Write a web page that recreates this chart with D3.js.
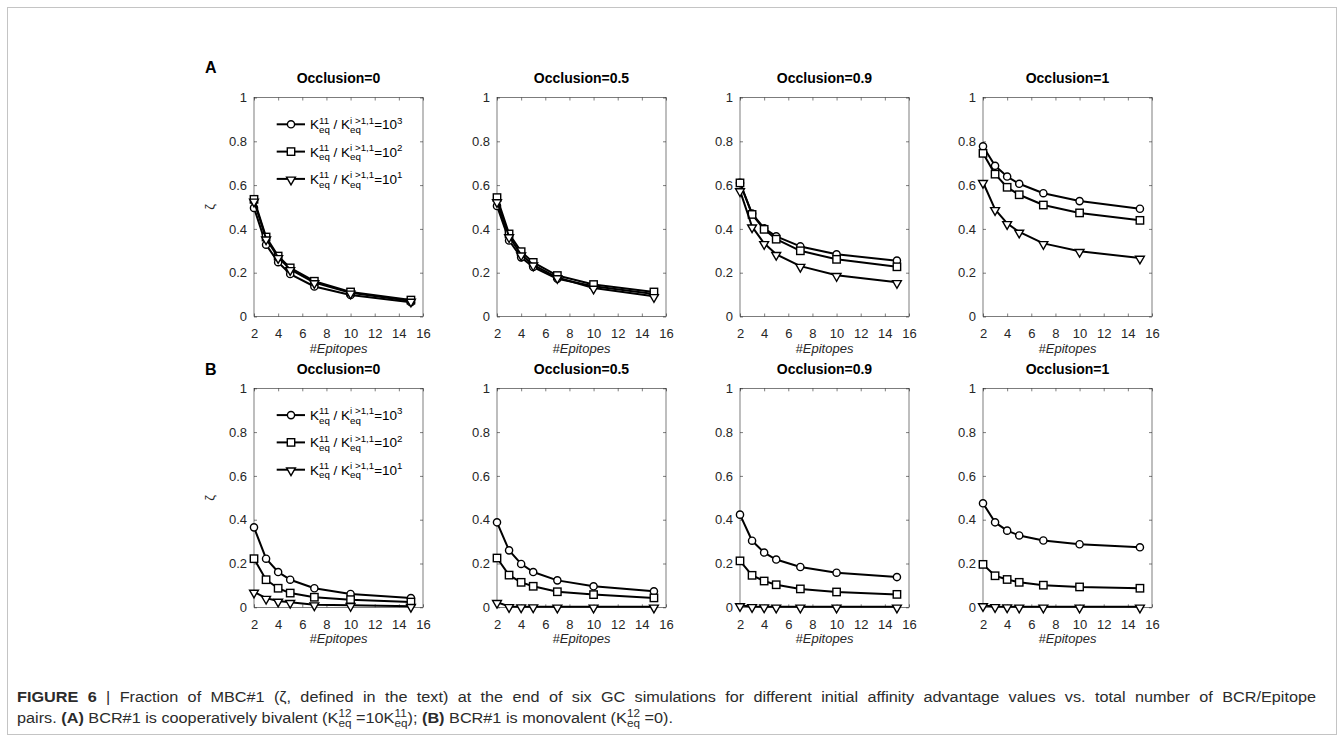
<!DOCTYPE html>
<html>
<head>
<meta charset="utf-8">
<script src="https://cdn.jsdelivr.net/npm/d3@7"></script>
<style>
  body { margin: 0; background: #fff; }
  svg { display: block; font-family: "Liberation Sans", Arial, Helvetica, sans-serif; }
</style>
</head>
<body>
<svg id="chart" width="1344" height="742"></svg>
<script>
// x values and panel labels
const epitopes = [2, 3, 4, 5, 7, 10, 15];
const occlusions = ["0", "0.5", "0.9", "1"];
const rowLabels = ["A", "B"];
const ratioExponents = ["3", "2", "1"];
const xTicks = [2, 4, 6, 8, 10, 12, 14, 16];
const yTicks = [0, 0.2, 0.4, 0.6, 0.8, 1];

// row A (cooperatively bivalent), one array per occlusion
const bivalent1e3 = [
  [0.496, 0.328, 0.248, 0.194, 0.137, 0.098, 0.065],
  [0.505, 0.347, 0.270, 0.226, 0.172, 0.138, 0.103],
  [0.610, 0.470, 0.403, 0.366, 0.320, 0.284, 0.255],
  [0.777, 0.688, 0.639, 0.606, 0.563, 0.527, 0.492]
];
const bivalent1e2 = [
  [0.535, 0.363, 0.276, 0.222, 0.161, 0.112, 0.075],
  [0.543, 0.377, 0.296, 0.247, 0.187, 0.146, 0.112],
  [0.610, 0.466, 0.398, 0.353, 0.300, 0.261, 0.227],
  [0.745, 0.650, 0.590, 0.556, 0.509, 0.473, 0.439]
];
const bivalent1e1 = [
  [0.528, 0.355, 0.270, 0.215, 0.155, 0.108, 0.071],
  [0.525, 0.365, 0.282, 0.236, 0.178, 0.130, 0.092],
  [0.575, 0.410, 0.334, 0.284, 0.230, 0.188, 0.156],
  [0.613, 0.489, 0.425, 0.386, 0.334, 0.298, 0.267]
];

// row B (monovalent)
const monovalent1e3 = [
  [0.365, 0.222, 0.161, 0.126, 0.087, 0.061, 0.042],
  [0.388, 0.260, 0.198, 0.161, 0.123, 0.096, 0.073],
  [0.423, 0.304, 0.250, 0.218, 0.184, 0.158, 0.138],
  [0.475, 0.388, 0.350, 0.328, 0.305, 0.288, 0.274]
];
const monovalent1e2 = [
  [0.222, 0.126, 0.087, 0.065, 0.046, 0.035, 0.024],
  [0.225, 0.147, 0.114, 0.096, 0.071, 0.058, 0.043],
  [0.212, 0.146, 0.120, 0.103, 0.084, 0.070, 0.059],
  [0.196, 0.144, 0.127, 0.114, 0.101, 0.093, 0.087]
];
const monovalent1e1 = [
  [0.070, 0.042, 0.029, 0.023, 0.012, 0.009, 0.005],
  [0.023, 0.004, 0.003, 0.003, 0.002, 0.002, 0.002],
  [0.008, 0.004, 0.003, 0.002, 0.002, 0.002, 0.002],
  [0.008, 0.004, 0.003, 0.002, 0.002, 0.002, 0.002]
];

const rows = [
  [bivalent1e3, bivalent1e2, bivalent1e1],
  [monovalent1e3, monovalent1e2, monovalent1e1]
];
const markers = ["circle", "square", "triangle"];

const svg = d3.select("#chart");
const ink = "#262626";

// frame round the figure
svg.append("rect")
  .attr("x", 7.5).attr("y", 7.5)
  .attr("width", 1329).attr("height", 727)
  .attr("fill", "none").attr("stroke", "#c4c4c4").attr("stroke-width", 1);

const colX = [254, 497, 740, 983];
const rowY = [97.5, 388.3];
const pw = 169, ph = 219;

function drawMarker(g, type, x, y) {
  if (type === "circle") {
    g.append("circle").attr("cx", x).attr("cy", y).attr("r", 3.6)
      .attr("fill", "#fff").attr("stroke", "#000").attr("stroke-width", 1.4);
  } else if (type === "square") {
    g.append("rect").attr("x", x - 3.7).attr("y", y - 3.7).attr("width", 7.4).attr("height", 7.4)
      .attr("fill", "#fff").attr("stroke", "#000").attr("stroke-width", 1.4);
  } else {
    g.append("path").attr("d", d3.symbol(d3.symbolTriangle, 34)())
      .attr("transform", `translate(${x},${y + 0.8}) rotate(180)`)
      .attr("fill", "#fff").attr("stroke", "#000").attr("stroke-width", 1.4);
  }
}

// text with stacked super/subscripts, pieces placed one after another
function rich(g, x, y, parts, size, fill, wordSpacing) {
  let cx = x;
  parts.forEach(p => {
    if (p.t !== undefined) {
      const t = g.append("text").attr("x", cx).attr("y", y)
        .attr("font-size", size).attr("fill", fill)
        .attr("font-weight", p.bold ? "bold" : null)
        .style("word-spacing", wordSpacing ? wordSpacing + "px" : null)
        .attr("xml:space", "preserve").text(p.t);
      cx += t.node().getBBox().width;
    } else {
      let w = 0;
      if (p.sup) {
        const t = g.append("text").attr("x", cx).attr("y", y - size * 0.42)
          .attr("font-size", size * 0.72).attr("fill", fill).text(p.sup);
        w = Math.max(w, t.node().getComputedTextLength());
      }
      if (p.sub) {
        const t = g.append("text").attr("x", cx).attr("y", y + size * 0.28)
          .attr("font-size", size * 0.72).attr("fill", fill).text(p.sub);
        w = Math.max(w, t.node().getComputedTextLength());
      }
      cx += w;
    }
  });
  return cx;
}

const fmt = d => String(+d.toFixed(1));

rows.forEach((series, r) => {
  occlusions.forEach((occ, c) => {
    const x = d3.scaleLinear().domain([2, 16]).range([colX[c], colX[c] + pw]);
    const y = d3.scaleLinear().domain([0, 1]).range([rowY[r] + ph, rowY[r]]);
    const g = svg.append("g");

    // axes with inward ticks on all four sides
    g.append("g").attr("transform", `translate(0,${rowY[r] + ph})`)
      .call(d3.axisBottom(x).tickValues(xTicks).tickSize(-3).tickPadding(12).tickFormat(fmt))
      .call(a => a.select(".domain").remove());
    g.append("g").attr("transform", `translate(0,${rowY[r]})`)
      .call(d3.axisTop(x).tickValues(xTicks).tickSize(-3).tickFormat(""))
      .call(a => a.select(".domain").remove());
    g.append("g").attr("transform", `translate(${colX[c]},0)`)
      .call(d3.axisLeft(y).tickValues(yTicks).tickSize(-3).tickPadding(7).tickFormat(fmt))
      .call(a => a.select(".domain").remove());
    g.append("g").attr("transform", `translate(${colX[c] + pw},0)`)
      .call(d3.axisRight(y).tickValues(yTicks).tickSize(-3).tickFormat(""))
      .call(a => a.select(".domain").remove());
    g.selectAll(".tick line").attr("stroke", ink).attr("stroke-width", 0.6);
    g.selectAll(".tick text").attr("fill", ink).attr("font-size", 13)
      .attr("font-family", "Liberation Sans, Arial, sans-serif");
    g.append("rect").attr("x", colX[c]).attr("y", rowY[r])
      .attr("width", pw).attr("height", ph)
      .attr("fill", "none").attr("stroke", ink).attr("stroke-width", 0.6);

    // title and axis label
    g.append("text").attr("x", colX[c] + pw / 2).attr("y", rowY[r] - 14.5)
      .attr("text-anchor", "middle").attr("font-weight", "bold").attr("font-size", 14)
      .attr("fill", "#000").text("Occlusion=" + occ);
    g.append("text").attr("x", colX[c] + pw / 2).attr("y", rowY[r] + ph + 36)
      .attr("text-anchor", "middle").attr("font-style", "italic").attr("font-size", 13)
      .attr("fill", ink).text("#Epitopes");

    // series
    const line = d3.line().x((d, i) => x(epitopes[i])).y(d => y(d));
    series.forEach((s, k) => {
      const vals = s[c];
      g.append("path").attr("d", line(vals))
        .attr("fill", "none").attr("stroke", "#000").attr("stroke-width", 2)
        .attr("stroke-linejoin", "round");
      vals.forEach((v, i) => drawMarker(g, markers[k], x(epitopes[i]), y(v)));
    });

    if (c === 0) {
      // y label
      g.append("text").attr("transform", `translate(214,${rowY[r] + ph / 2}) rotate(-90)`)
        .attr("text-anchor", "middle").attr("font-size", 13).attr("fill", ink).text("ζ");
      // panel letter
      svg.append("text").attr("x", 205).attr("y", r === 0 ? 72.5 : 375)
        .attr("font-weight", "bold").attr("font-size", 16).attr("fill", "#000")
        .text(rowLabels[r]);
      // legend
      ratioExponents.forEach((e, k) => {
        const ly = rowY[r] + 26.8 + k * 27.3;
        g.append("line").attr("x1", 276.7).attr("x2", 305).attr("y1", ly).attr("y2", ly)
          .attr("stroke", "#000").attr("stroke-width", 2);
        drawMarker(g, markers[k], 291, ly);
        rich(g, 310, ly + 5, [
          { t: "K" }, { sup: "11", sub: "eq" }, { t: " / K" }, { sup: "i >1,1", sub: "eq" },
          { t: "=10" }, { sup: e, sub: "" }
        ], 13.5, "#000");
      });
    }
  });
});

// caption: second line sets the scale, first line is justified to full width
const capInk = "#2b2b2b";
const capSize = 15;
const line1 = [
  { t: "FIGURE 6", bold: true },
  { t: " | Fraction of MBC#1 (ζ, defined in the text) at the end of six GC simulations for different initial affinity advantage values vs. total number of BCR/Epitope" }
];
const line2 = [
  { t: "pairs. " }, { t: "(A)", bold: true }, { t: " BCR#1 is cooperatively bivalent (K" },
  { sup: "12", sub: "eq" }, { t: " =10K" }, { sup: "11", sub: "eq" }, { t: "); " },
  { t: "(B)", bold: true }, { t: " BCR#1 is monovalent (K" }, { sup: "12", sub: "eq" }, { t: " =0)." }
];
const capFont = "'Liberation Sans Narrow', 'Liberation Sans', Arial, sans-serif";
const cap = svg.append("g").attr("font-family", capFont);
const w2 = rich(cap, 0, 21.5, line2, capSize, capInk);
const k = 656 / w2;
const probe = svg.append("g").attr("font-family", capFont);
const w1 = rich(probe, 0, 0, line1, capSize, capInk);
probe.remove();
const spaces = line1.map(p => p.t).join("").split(" ").length - 1;
const extra = Math.max(0, (1300 / k - w1) / spaces);
rich(cap, 0, 0, line1, capSize, capInk, extra);
cap.attr("transform", `translate(17,701.5) scale(${k},1)`);
</script>
</body>
</html>
